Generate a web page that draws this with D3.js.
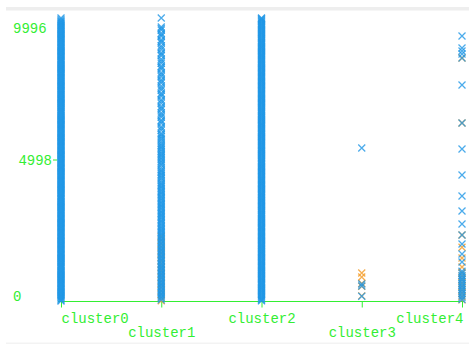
<!DOCTYPE html>
<html>
<head>
<meta charset="utf-8">
<script src="https://cdn.jsdelivr.net/npm/d3@7"></script>
<style>
  html, body { margin: 0; padding: 0; background: #fff; }
  svg { display: block; }
  text { font-family: "Liberation Mono", "DejaVu Sans Mono", monospace; font-size: 14px; fill: #33ee33; }
</style>
</head>
<body>
<svg id="chart" width="469" height="345"></svg>
<script>
// Categories on the x axis
const clusters = ["cluster0", "cluster1", "cluster2", "cluster3", "cluster4"];

// Y axis tick values
const yTicks = [0, 4998, 9996];

// Blue series: values per cluster
const blue0 = [0, 74, 151, 223, 298, 377, 449, 526, 598, 673, 751, 824, 902, 975, 1049, 1126, 1198, 1275, 1349, 1424, 1502, 1575, 1651, 1723, 1800, 1874, 1952, 2025, 2099, 2176, 2248, 2325, 2401, 2474, 2550, 2623, 2701, 2774, 2850, 2925, 2998, 3076, 3149, 3225, 3300, 3374, 3451, 3524, 3600, 3677, 3749, 3826, 3899, 3975, 4050, 4124, 4201, 4275, 4349, 4426, 4500, 4575, 4651, 4724, 4800, 4876, 4949, 5025, 5101, 5174, 5250, 5326, 5399, 5475, 5550, 5624, 5701, 5775, 5850, 5926, 5999, 6074, 6151, 6225, 6300, 6376, 6449, 6525, 6600, 6675, 6750, 6824, 6901, 6975, 7050, 7126, 7199, 7275, 7350, 7424, 7501, 7575, 7650, 7726, 7800, 7874, 7951, 8025, 8100, 8175, 8249, 8325, 8401, 8475, 8550, 8626, 8699, 8775, 8850, 8925, 9000, 9074, 9151, 9225, 9300, 9376, 9449, 9525, 9600, 9675, 9750, 9826, 9900, 9996,
  36, 113, 186, 262, 338, 411, 488, 560, 637, 713, 786, 864, 937, 1013, 1088, 1161, 1237, 1311, 1386, 1463, 1537, 1614, 1686, 1761, 1838, 1913, 1988, 2061, 2138, 2212, 2287, 2363, 2437, 2512, 2586, 2662, 2737, 2812, 2888, 2961, 3037, 3112, 3188, 3263, 3336, 3412, 3487, 3562, 3638, 3713, 3787, 3862, 3937, 4013, 4086, 4162, 4238, 4311, 4388, 4463, 4537, 4613, 4688, 4762, 4838, 4912, 4987, 5063, 5137, 5212, 5288, 5362, 5437, 5513, 5587, 5662, 5738, 5812, 5888, 5962, 6037, 6112, 6188, 6263, 6338, 6412, 6487, 6563, 6637, 6713, 6787, 6862, 6938, 7012, 7088, 7162, 7237, 7313, 7387, 7462, 7538, 7612, 7688, 7763, 7837, 7912, 7988, 8062, 8138, 8212, 8287, 8363, 8438, 8512, 8588, 8662, 8737, 8812, 8888, 8962, 9037, 9112, 9188, 9262, 9338, 9412, 9487, 9562, 9637, 9712, 9788, 9863, 9948];
const blue1 = [9996, 9680, 9570, 9455, 9350, 9230, 9120, 9010, 8880, 8770, 8660, 8540, 8400, 8290, 8180, 8060, 7930, 7820, 7700, 7590, 7450, 7340, 7230, 7110, 6980, 6870, 6750, 6640, 6500, 6390, 6280, 6160, 6030, 5920, 5810, 5690, 5560, 5450, 5340, 5220, 5120, 5010, 4900, 4790, 4640, 4540, 4430, 4320, 4180, 4080, 3980, 3870, 3770, 3660, 3560, 3450, 3350, 3250, 3140, 3040, 2940, 2830, 2730, 2620, 2520, 2420, 2320, 2210, 2110, 2010, 1900, 1800, 1700, 1590, 1490, 1390, 1280, 1180, 1080, 970, 870, 770, 660, 560, 460, 350, 250, 150, 40,
  9625, 9400, 9180, 8950, 8720, 8470, 8240, 8000, 7760, 7520, 7290, 7050, 6810, 6570, 6340, 6100, 5870, 5750, 5620, 5500, 5400, 5280, 5170, 5060, 4950, 4840, 4710, 4590, 4480, 4370, 4250, 4130, 4030, 3920, 3820, 3710, 3610, 3500, 3400, 3300, 3190, 3090, 2990, 2880, 2780, 2670, 2570, 2470, 2370, 2260, 2160, 2060, 1950, 1850, 1750, 1640, 1540, 1440, 1330, 1230, 1130, 1020, 920, 820, 710, 610, 510, 400, 300, 200, 95];
const blue2 = [5, 37, 111, 188, 260, 335, 414, 486, 563, 635, 710, 788, 861, 939, 1012, 1086, 1163, 1235, 1312, 1386, 1461, 1539, 1612, 1688, 1760, 1837, 1911, 1989, 2062, 2136, 2213, 2285, 2362, 2438, 2511, 2587, 2660, 2738, 2811, 2887, 2962, 3035, 3113, 3186, 3262, 3337, 3411, 3488, 3561, 3637, 3714, 3786, 3863, 3936, 4012, 4087, 4161, 4238, 4312, 4386, 4463, 4537, 4612, 4688, 4761, 4837, 4913, 4986, 5062, 5138, 5211, 5287, 5363, 5436, 5512, 5587, 5661, 5738, 5812, 5887, 5963, 6036, 6111, 6188, 6262, 6337, 6413, 6486, 6562, 6637, 6712, 6787, 6861, 6938, 7012, 7087, 7163, 7236, 7312, 7387, 7461, 7538, 7612, 7687, 7763, 7837, 7911, 7988, 8062, 8137, 8212, 8286, 8362, 8438, 8512, 8587, 8663, 8736, 8812, 8887, 8962, 9037, 9111, 9188, 9262, 9337, 9413, 9486, 9562, 9637, 9712, 9787, 9863, 9937, 9995,
  72, 149, 224, 299, 372, 449, 524, 598, 674, 748, 823, 899, 974, 1049, 1124, 1199, 1273, 1349, 1423, 1500, 1574, 1650, 1724, 1799, 1874, 1950, 2024, 2099, 2174, 2249, 2324, 2400, 2474, 2549, 2624, 2699, 2774, 2849, 2924, 2999, 3074, 3149, 3224, 3299, 3374, 3449, 3524, 3599, 3676, 3750, 3824, 3900, 3974, 4049, 4124, 4200, 4275, 4349, 4424, 4500, 4574, 4650, 4724, 4799, 4875, 4949, 5024, 5100, 5174, 5249, 5325, 5399, 5474, 5550, 5624, 5700, 5775, 5849, 5925, 6000, 6074, 6150, 6225, 6299, 6375, 6450, 6524, 6600, 6674, 6750, 6824, 6900, 6975, 7049, 7125, 7199, 7275, 7349, 7424, 7500, 7575, 7649, 7725, 7800, 7874, 7950, 8024, 8100, 8174, 8250, 8324, 8400, 8474, 8550, 8625, 8699, 8775, 8849, 8925, 8999, 9075, 9150, 9224, 9300, 9374, 9450, 9525, 9599, 9675, 9749, 9825, 9899, 9970];
const blue3 = [5404, 600, 530, 170];
const blue4 = [9360, 8936, 8830, 8724, 8583, 7629, 6287, 5369, 4450, 3709, 3179, 2720, 2331, 2013, 1660, 1377, 1050, 980, 900, 820, 760, 690, 610, 540, 470, 400, 330, 260, 190, 120, 50];

// Orange series: values per cluster
const orange0 = [];
const orange1 = [2280, 2150, 2030, 1920, 1790, 1680, 1550, 1430, 1320, 1190, 1070, 950, 830, 710, 600, 480, 360, 240, 120, 10];
const orange2 = [];
const orange3 = [990, 850, 620, 520, 180];
const orange4 = [8583, 6287, 2331, 1900, 1520, 1200, 1000, 880, 760, 640, 520, 400, 280, 160, 40];

const blueSeries = [blue0, blue1, blue2, blue3, blue4];
const orangeSeries = [orange0, orange1, orange2, orange3, orange4];

const svg = d3.select("#chart");
const green = "#33ee33";

const x = d3.scalePoint().domain(clusters).range([61, 462]);
const y = d3.scaleLinear().domain([0, 9996]).range([301, 18]);

// Frame bands
svg.append("rect").attr("x", 6).attr("y", 7).attr("width", 463).attr("height", 3.5).attr("fill", "#eeeeee");
svg.append("rect").attr("x", 6).attr("y", 342.5).attr("width", 463).attr("height", 1.5).attr("fill", "#f3f3f3");

// X axis
const xAxis = svg.append("g").attr("transform", "translate(0,301.5)")
  .call(d3.axisBottom(x).tickSize(6).tickSizeOuter(0));
xAxis.select(".domain").remove();
xAxis.append("line").attr("x1", 58).attr("x2", 464).attr("stroke", green);
xAxis.selectAll(".tick line").attr("stroke", green);
xAxis.selectAll(".tick text")
  .attr("fill", green)
  .attr("dy", null)
  .attr("y", (d, i) => i % 2 === 0 ? 21.5 : 35.5)
  .attr("text-anchor", (d, i) => i === 0 ? "start" : (i === clusters.length - 1 ? "end" : "middle"))
  .attr("dx", (d, i) => i === clusters.length - 1 ? 1 : 0);

// Y axis
const yAxis = svg.append("g").attr("transform", "translate(57,0)")
  .call(d3.axisLeft(y).tickValues(yTicks).tickFormat(d3.format("d")).tickSize(4).tickPadding(5));
yAxis.select(".domain").remove();
yAxis.selectAll(".tick line").attr("stroke", green)
  .attr("display", d => (d === yTicks[0] || d === yTicks[yTicks.length - 1]) ? "none" : null);
yAxis.selectAll(".tick text")
  .attr("fill", green)
  .attr("dy", d => d === yTicks[0] ? "-0.05em" : (d === yTicks[yTicks.length - 1] ? "1.05em" : "0.35em"))
  .attr("text-anchor", d => (d === yTicks[0] || d === yTicks[yTicks.length - 1]) ? "start" : "end")
  .attr("x", d => (d === yTicks[0] || d === yTicks[yTicks.length - 1]) ? -44 : -5);

// Point markers
const cross = "M-3.5,-3.5L3.5,3.5M-3.5,3.5L3.5,-3.5";

function drawSeries(series, color, opacity, cls) {
  const pts = [];
  series.forEach((vals, i) => vals.forEach(v => pts.push({ c: clusters[i], v })));
  svg.append("g").attr("class", cls)
    .selectAll("path").data(pts).join("path")
    .attr("d", cross)
    .attr("transform", d => `translate(${x(d.c)},${y(d.v)})`)
    .attr("fill", "none")
    .attr("stroke", color)
    .attr("stroke-width", 1.3)
    .attr("stroke-opacity", opacity);
}

// Orange underneath, translucent blue on top
drawSeries(orangeSeries, "#f5a030", 0.85, "orange");
drawSeries(blueSeries, "#1e96e6", 0.8, "blue");
</script>
</body>
</html>
